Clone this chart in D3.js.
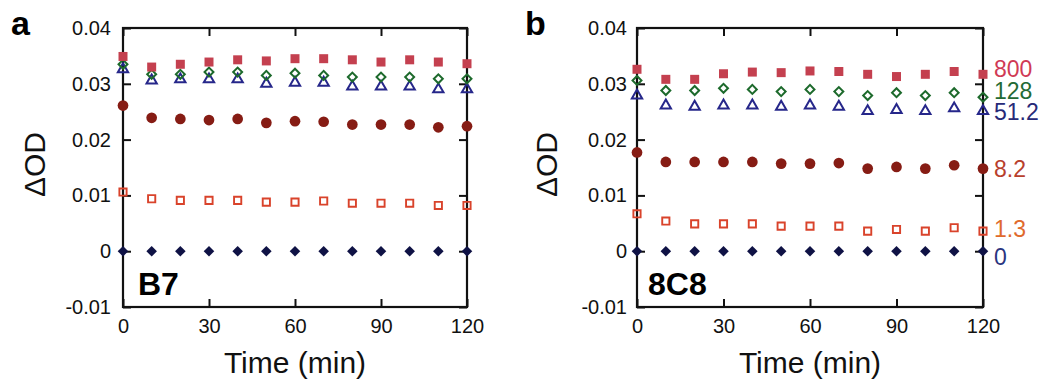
<!DOCTYPE html>
<html><head><meta charset="utf-8">
<script src="https://cdn.jsdelivr.net/npm/d3@7"></script>
<style>
html,body{margin:0;padding:0;background:#fff;}
svg{display:block;font-family:"Liberation Sans",Arial,Helvetica,sans-serif;}
</style></head>
<body>
<svg id="chart" width="1052" height="391"></svg>
<script>
const times = [0,10,20,30,40,50,60,70,80,90,100,110,120];
const xTicks = [0,30,60,90,120];
const yTicks = [0.04,0.03,0.02,0.01,0,-0.01];
const concentrations = ["800","128","51.2","8.2","1.3","0"];

// Panel a (B7)
const a800 = [0.0349,0.0330,0.0335,0.0339,0.0343,0.0341,0.0345,0.0345,0.0343,0.0339,0.0343,0.0339,0.0336];
const a128 = [0.0335,0.0317,0.0317,0.0321,0.0321,0.0315,0.0319,0.0315,0.0312,0.0312,0.0312,0.0309,0.0309];
const a51  = [0.0326,0.0306,0.0308,0.0308,0.0308,0.0300,0.0302,0.0302,0.0295,0.0295,0.0295,0.0290,0.0290];
const a8   = [0.0261,0.0239,0.0237,0.0235,0.0237,0.0230,0.0233,0.0232,0.0227,0.0227,0.0227,0.0222,0.0224];
const a1   = [0.0106,0.0094,0.0091,0.0091,0.0091,0.0088,0.0088,0.0090,0.0086,0.0086,0.0086,0.0082,0.0082];
const a0   = [0,0,0,0,0,0,0,0,0,0,0,0,0];

// Panel b (8C8)
const b800 = [0.0326,0.0308,0.0308,0.0318,0.0321,0.0320,0.0323,0.0322,0.0317,0.0313,0.0317,0.0322,0.0317];
const b128 = [0.0306,0.0288,0.0288,0.0292,0.0290,0.0286,0.0290,0.0286,0.0279,0.0284,0.0279,0.0284,0.0276];
const b51  = [0.0279,0.0261,0.0259,0.0261,0.0261,0.0259,0.0261,0.0259,0.0251,0.0253,0.0251,0.0256,0.0251];
const b8   = [0.0177,0.0160,0.0160,0.0160,0.0160,0.0157,0.0157,0.0158,0.0148,0.0151,0.0148,0.0154,0.0148];
const b1   = [0.0067,0.0054,0.0049,0.0049,0.0049,0.0045,0.0045,0.0045,0.0036,0.0039,0.0036,0.0042,0.0036];
const b0   = [0,0,0,0,0,0,0,0,0,0,0,0,0];

// y value at which each concentration label sits (panel b, right side)
const labelValues = [0.0327,0.0287,0.0250,0.0148,0.0041,-0.0010];

const styles = {
  "800": {type:"square", fill:"#c4404f", stroke:"none", size:81},
  "128": {type:"diamond", fill:"none", stroke:"#1d6a2c", size:40, sw:2},
  "51.2":{type:"triangle", fill:"none", stroke:"#26278a", size:46, sw:2},
  "8.2": {type:"circle", fill:"#861c14", stroke:"none", size:90},
  "1.3": {type:"square", fill:"none", stroke:"#d9432b", size:52, sw:1.9},
  "0":   {type:"diamond", fill:"#0f1245", stroke:"none", size:56}
};
const labelColors = {"800":"#d03a55","128":"#236a35","51.2":"#272a78","8.2":"#b8402c","1.3":"#e06a2c","0":"#2a3580"};
const drawOrder = ["0","1.3","8.2","51.2","128","800"];

const panels = [
  {letter:"a", name:"B7", left:123, width:344, series:{"800":a800,"128":a128,"51.2":a51,"8.2":a8,"1.3":a1,"0":a0}, labels:false, yPad:12, ylabX:45, nameDx:15},
  {letter:"b", name:"8C8", left:637, width:346, series:{"800":b800,"128":b128,"51.2":b51,"8.2":b8,"1.3":b1,"0":b0}, labels:true, yPad:10, ylabX:557, nameDx:11}
];
const plotTop = 28, plotH = 279;

const svg = d3.select("#chart");

function symPath(type, size){
  const t = {square:d3.symbolSquare, diamond:d3.symbolSquare, triangle:d3.symbolTriangle, circle:d3.symbolCircle}[type];
  return d3.symbol().type(t).size(size)();
}

panels.forEach(p => {
  const x = d3.scaleLinear().domain([0,120]).range([0,p.width]);
  const y = d3.scaleLinear().domain([-0.01,0.04]).range([plotH,0]);
  const g = svg.append("g").attr("transform",`translate(${p.left},${plotTop})`);

  const fmt = v => v === 0 ? "0" : v.toFixed(2);

  const ax = g.append("g").call(d3.axisLeft(y).tickValues(yTicks).tickFormat(fmt).tickSize(-8).tickPadding(p.yPad));
  ax.select(".domain").remove();
  ax.selectAll("text").attr("font-size",20).attr("fill","#111").attr("font-family","Liberation Sans, Arial, sans-serif");
  ax.selectAll("line").attr("stroke","#111").attr("stroke-width",2);
  const ar = g.append("g").attr("transform",`translate(${p.width},0)`).call(d3.axisRight(y).tickValues(yTicks).tickFormat("").tickSize(-8));
  ar.select(".domain").remove();
  ar.selectAll("line").attr("stroke","#111").attr("stroke-width",2);
  const ab = g.append("g").attr("transform",`translate(0,${plotH})`).call(d3.axisBottom(x).tickValues(xTicks).tickSize(-8).tickPadding(12));
  ab.select(".domain").remove();
  ab.selectAll("text").attr("font-size",20).attr("fill","#111").attr("font-family","Liberation Sans, Arial, sans-serif");
  ab.selectAll("line").attr("stroke","#111").attr("stroke-width",2);
  const at = g.append("g").call(d3.axisTop(x).tickValues(xTicks).tickFormat("").tickSize(-8));
  at.select(".domain").remove();
  at.selectAll("line").attr("stroke","#111").attr("stroke-width",2);

  g.append("rect").attr("x",0).attr("y",0).attr("width",p.width).attr("height",plotH)
    .attr("fill","none").attr("stroke","#111").attr("stroke-width",2.2);

  drawOrder.forEach(k => {
    const st = styles[k];
    const vals = p.series[k];
    const path = symPath(st.type, st.size);
    g.append("g").selectAll("path").data(times.map((t,i)=>({t,v:vals[i]}))).join("path")
      .attr("d", path)
      .attr("transform", d => `translate(${x(d.t)},${y(d.v)})` + (st.type==="diamond" ? " rotate(45)" : ""))
      .attr("fill", st.fill)
      .attr("stroke", st.stroke)
      .attr("stroke-width", st.sw || 0);
  });

  g.append("text").attr("x",p.nameDx).attr("y",267).text(p.name)
    .attr("font-size",32).attr("font-weight","bold").attr("fill","#000");

  g.append("text").attr("x",p.width/2).attr("y",345).attr("text-anchor","middle")
    .attr("font-size",30).attr("fill","#111").text("Time (min)");
  svg.append("text").attr("transform",`translate(${p.ylabX},${plotTop+plotH/2-3}) rotate(-90)`)
    .attr("text-anchor","middle").attr("font-size",30).attr("fill","#111").text("ΔOD");

  svg.append("text").attr("x",p.left-112).attr("y",35).text(p.letter)
    .attr("font-size",34).attr("font-weight","bold").attr("fill","#000");

  if (p.labels) {
    concentrations.forEach((c,i) => {
      g.append("text").attr("x",p.width+11).attr("y",y(labelValues[i])).attr("dy","0.36em")
        .attr("font-size",23).attr("fill",labelColors[c]).text(c);
    });
  }
});
</script>
</body></html>
